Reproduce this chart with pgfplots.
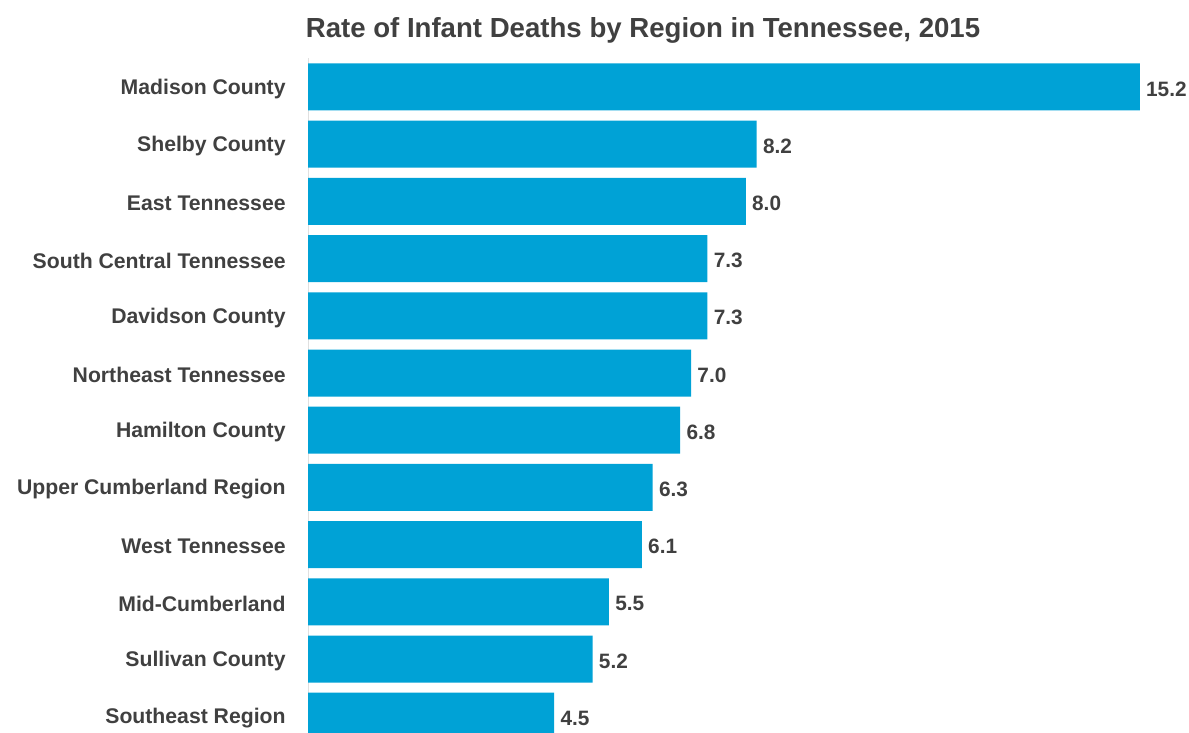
\documentclass[border=0pt]{standalone}
\usepackage{pgfplots}
\pgfplotsset{compat=1.18}
\usepackage{fontspec}
\setmainfont{Liberation Sans}
\definecolor{barblue}{HTML}{00A2D6}
\definecolor{txt}{HTML}{404040}
\begin{document}
\begin{tikzpicture}
\begin{axis}[
  at={(154pt,337.3pt)}, anchor=north west,
  scale only axis, width=440.5pt, height=343.2pt,
  xbar, bar width=23.5pt, bar shift=0pt,
  xmin=0, xmax=16.1, ymin=-0.5, ymax=11.5, y dir=reverse,
  clip=false,
  axis x line=none, axis y line=left,
  y axis line style={draw=black!12, -},
  major tick length=0pt,
  ytick={0,...,11},
  yticklabels={Madison County, Shelby County, East Tennessee, South Central Tennessee, Davidson County, Northeast Tennessee, Hamilton County, Upper Cumberland Region, West Tennessee, Mid-Cumberland, Sullivan County, Southeast Region},
  yticklabel style={font=\fontsize{10.6}{12}\selectfont\bfseries, text=txt, anchor=east, inner sep=0pt, xshift=-11pt, yshift=-1pt},
  /pgf/number format/assume math mode=true,
  nodes near coords={\pgfmathprintnumber[fixed,fixed zerofill,precision=1,assume math mode=true]{\pgfplotspointmeta}},
  nodes near coords style={font=\fontsize{10.4}{12}\selectfont\bfseries, text=txt, anchor=west, inner sep=0pt, xshift=3pt, yshift=-1pt},
]
\addplot[draw=none, fill=barblue] coordinates {(15.2,0) (8.2,1) (8.0,2) (7.3,3) (7.3,4) (7.0,5) (6.8,6) (6.3,7) (6.1,8) (5.5,9) (5.2,10) (4.5,11)};
\end{axis}
\node[font=\fontsize{13.8}{16}\selectfont\bfseries, text=txt] at (321.5pt,351.5pt) {Rate of Infant Deaths by Region in Tennessee, 2015};
\pgfresetboundingbox
\useasboundingbox (0,0) rectangle (594.5pt,366.5pt);
\end{tikzpicture}
\end{document}
